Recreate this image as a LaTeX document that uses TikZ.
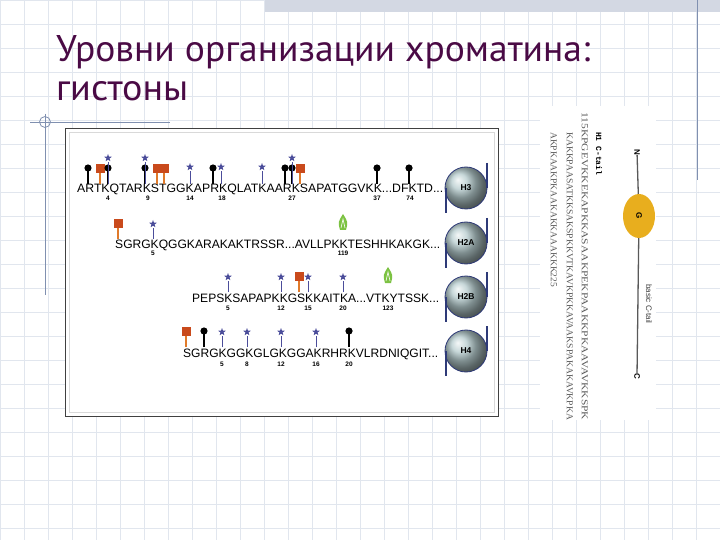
\documentclass[tikz,border=0pt]{standalone}
\usepackage{fontspec}
\setmainfont{Liberation Sans}
\newfontfamily\titlefont{PT Sans}
\newfontfamily\serifm{Liberation Serif}
\newfontfamily\monof{Liberation Mono}
\usetikzlibrary{shapes.geometric}
\definecolor{gridc}{HTML}{E1E6EE}
\definecolor{decor}{HTML}{8090B0}
\definecolor{ttl}{HTML}{4A0A45}
\definecolor{starc}{HTML}{4B4D9A}
\definecolor{sqc}{HTML}{C94A1C}
\definecolor{stc}{HTML}{E07A2A}
\definecolor{ubc}{HTML}{7CC242}
\definecolor{gold}{HTML}{E8AE1E}
\definecolor{ballc}{HTML}{B4CACC}
\definecolor{dnac}{HTML}{2E3A78}
\tikzset{
  seq/.style={anchor=base west,inner sep=0pt},
  num/.style={inner sep=0pt,font=\fontsize{6.5}{7}\selectfont\bfseries},
  ball/.style={circle,minimum size=42pt,inner sep=0pt,ball color=ballc,draw=dnac,line width=0.8pt,font=\fontsize{8.5}{9}\selectfont\bfseries,text=black},
  rot/.style={rotate=-90,inner sep=0pt}
}
\newcommand{\mlol}[2]{\draw[line width=1.4pt] (#1,#2-1)--(#1,#2-15); \fill (#1,#2-17) circle (3.6);}
\newcommand{\mstar}[3]{\draw[starc,line width=1pt] (#1,#2-1)--(#1,#2-#3+4); \node[star,star points=5,star point ratio=2.4,fill=starc,inner sep=0pt,minimum size=8pt] at (#1,#2-#3) {};}
\newcommand{\msq}[2]{\draw[stc,line width=1.2pt] (#1,#2-1)--(#1,#2-12); \fill[sqc] (#1-4.5,#2-21) rectangle (#1+4.5,#2-12);}
\newcommand{\mub}[2]{\fill[ubc] (#1,#2-26) .. controls (#1+5,#2-18) .. (#1+3,#2-10) -- (#1-3,#2-10) .. controls (#1-5,#2-18) .. (#1,#2-26); \draw[white,line width=0.6pt] (#1-2,#2-12)--(#1,#2-21)--(#1+2,#2-12);}
\newcommand{\tailball}[3]{\node[ball] (#1) at (466,#2) {#3};
  \draw[dnac,line width=1.2pt] (446,#2)--(446,#2+25) (487,#2-25)--(487,#2);}
\begin{document}
\begin{tikzpicture}[x=1pt,y=-1pt]
\useasboundingbox (0,0) rectangle (720,540);
\fill[white] (0,0) rectangle (720,540);
\foreach \i in {0,24,...,720} \draw[gridc,line width=0.6pt] (\i,0)--(\i,540);
\foreach \i in {0,24,...,540} \draw[gridc,line width=0.6pt] (0,\i)--(720,\i);
% top bar
\fill[decor!35] (265,0) rectangle (720,12);
\draw[decor,line width=0.7pt] (697,0)--(697,180);
% title
\node[anchor=base west,inner sep=0pt,text=ttl] (t1) at (56,62) {\resizebox{534pt}{26pt}{\titlefont Уровни организации хроматина:}};
\node[anchor=base west,inner sep=0pt,text=ttl] (t2) at (56,101) {\resizebox{132pt}{19pt}{\titlefont гистоны}};
% left decor
\draw[decor,line width=0.8pt] (30,122)--(170,122);
\draw[decor,line width=0.8pt] (45,114)--(45,295);
\draw[decor,line width=0.8pt] (45,122) circle (5.5);
% main box
\fill[white] (65,128) rectangle (498,416);
\draw[gray!30] (69,132) rectangle (494,412);
\draw[black!75,line width=0.9pt] (65,128) rectangle (498,416);
% H3
\node[seq] (s3) at (77,193) {\resizebox{366pt}{8.5pt}{ARTKQTARKSTGGKAPRKQLATKAARKSAPATGGVKK...DFKTD...}};
\mlol{88}{185} \msq{100}{185} \mlol{108}{185} \mstar{108}{185}{27}
\mlol{145}{185} \mstar{145}{185}{27} \msq{157}{185} \msq{164}{185}
\mstar{190}{185}{18} \mlol{213}{185} \mstar{221}{185}{18} \mstar{262}{185}{18}
\mlol{285}{185} \mlol{292}{185} \mstar{292}{185}{27} \msq{300}{185}
\mlol{377}{185} \mlol{409}{185}
\foreach \x/\n in {108/4,148/9,190/14,222/18,292/27,377/37,410/74} \node[num] at (\x,198) {\n};
\tailball{b3}{188}{H3}
% H2A
\node[seq] (s2a) at (115,248) {\resizebox{325pt}{8.5pt}{SGRGKQGGKARAKAKTRSSR...AVLLPKKTESHHKAKGK...}};
\msq{118}{240} \mstar{153}{240}{16} \mub{343}{240}
\foreach \x/\n in {153/5,343/119} \node[num] at (\x,253) {\n};
\tailball{b2a}{243}{H2A}
% H2B
\node[seq] (s2b) at (192,302) {\resizebox{247pt}{8.5pt}{PEPSKSAPAPKKGSKKAITKA...VTKYTSSK...}};
\mstar{228}{293}{16} \mstar{281}{293}{16} \msq{299}{293} \mstar{308}{293}{16} \mstar{343}{293}{16} \mub{388}{293}
\foreach \x/\n in {228/5,281/12,308/15,343/20,388/123} \node[num] at (\x,308) {\n};
\tailball{b2b}{297}{H2B}
% H4
\node[seq] (s4) at (183,357) {\resizebox{255pt}{8.5pt}{SGRGKGGKGLGKGGAKRHRKVLRDNIQGIT...}};
\msq{186}{348} \mlol{204}{348} \mstar{222}{348}{16} \mstar{247}{348}{16} \mstar{281}{348}{16} \mstar{316}{348}{16} \mlol{349}{348}
\foreach \x/\n in {222/5,247/8,281/12,316/16,349/20} \node[num] at (\x,364) {\n};
\tailball{b4}{351}{H4}
% right panel
\fill[white] (540,106) rectangle (656,420);
\node[rot,font=\monof\bfseries\fontsize{8}{9}\selectfont,anchor=north west] (h1) at (602,132) {H1 C-tail};
\node[rot,anchor=north west,text=black!65] (l1) at (588,112) {\resizebox{308pt}{6pt}{\serifm 115KPGEVKKEKAPKKASAAKPEKPAAKKPKAAVAVKKSPK}};
\node[rot,anchor=north west,text=black!65] (l2) at (573,132) {\resizebox{288pt}{6pt}{\serifm KAKKPAASATKKSAKSPKKVTKAVKPKKAVAAKSPAKAKAVKPKA}};
\node[rot,anchor=north west,text=black!65] (l3) at (557,132) {\resizebox{155pt}{6pt}{\serifm AKPKAAKPKAAKAKKAAAKKK225}};
\node[rot,font=\bfseries\fontsize{8}{9}\selectfont] (N) at (637,152) {N};
\node[rot,font=\bfseries\fontsize{8}{9}\selectfont] (C) at (637,376) {C};
\node[ellipse,fill=gold,minimum width=32pt,minimum height=44pt,inner sep=0pt] (G) at (639,216) {};
\node[rot,font=\bfseries\fontsize{8}{9}\selectfont] at (G) {G};
\draw[black!65,line width=1.3pt] (N)--(G) (G)--(C);
\node[rot,font=\fontsize{8}{9}\selectfont,text=black!75] (bt) at (649,304) {basic C-tail};
\end{tikzpicture}
\end{document}
